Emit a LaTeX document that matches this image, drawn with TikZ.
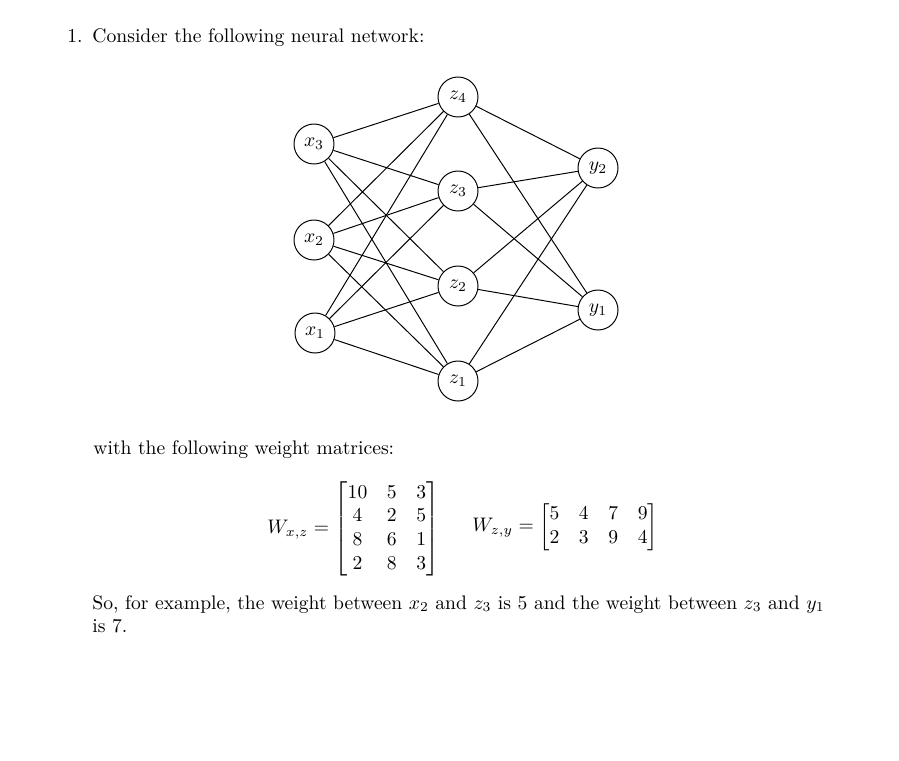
\documentclass[tikz,border=0pt]{standalone}
\usepackage{amsmath}
\begin{document}
\begin{tikzpicture}[x=0.51pt,y=-0.51pt,
  neuron/.style={circle,draw,line width=0.5pt,minimum size=40*0.51pt,inner sep=0pt},
  link/.style={line width=0.5pt},
  txt/.style={anchor=base west,inner sep=0pt}]
\useasboundingbox (0,0) rectangle (899,760);
% layers
\node[neuron] (x3) at (314,144) {$x_3$};
\node[neuron] (x2) at (314,240) {$x_2$};
\node[neuron] (x1) at (315,333) {$x_1$};
\node[neuron] (z4) at (458,97) {$z_4$};
\node[neuron] (z3) at (458,191) {$z_3$};
\node[neuron] (z2) at (458,286) {$z_2$};
\node[neuron] (z1) at (458,381) {$z_1$};
\node[neuron] (y2) at (598,168) {$y_2$};
\node[neuron] (y1) at (598,310) {$y_1$};
\foreach \a in {x1,x2,x3}{
  \foreach \b in {z1,z2,z3,z4}{
    \draw[link] (\a) -- (\b);
  }
}
\foreach \a in {z1,z2,z3,z4}{
  \foreach \b in {y1,y2}{
    \draw[link] (\a) -- (\b);
  }
}
% texts
\node[txt] (t1) at (67,42) {1.\enspace Consider the following neural network:};
\node[txt] (t2) at (93,454) {with the following weight matrices:};
\node[anchor=west,inner sep=0pt] (m1) at (267,529) {$W_{x,z} = \begin{bmatrix} 10 & 5 & 3\\ 4 & 2 & 5\\ 8 & 6 & 1\\ 2 & 8 & 3\end{bmatrix}$};
\node[anchor=west,inner sep=0pt] (m2) at (472,527) {$W_{z,y} = \begin{bmatrix} 5 & 4 & 7 & 9\\ 2 & 3 & 9 & 4\end{bmatrix}$};
\node[txt] (t3) at (92,609) {So, for example, the weight between $x_2$ and $z_3$ is 5 and the weight between $z_3$ and $y_1$};
\node[txt] (t4) at (92,632) {is 7.};
\end{tikzpicture}
\end{document}
